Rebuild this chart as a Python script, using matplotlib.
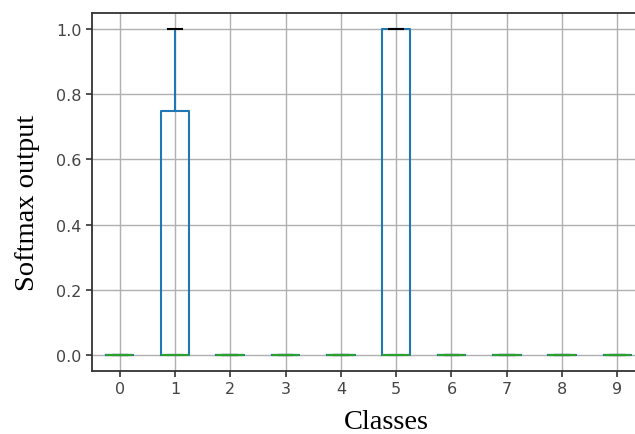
import matplotlib
matplotlib.use("Agg")
import matplotlib.pyplot as plt

classes = ["0", "1", "2", "3", "4", "5", "6", "7", "8", "9"]
q1 = [0, 0, 0, 0, 0, 0, 0, 0, 0, 0]
med = [0, 0, 0, 0, 0, 0, 0, 0, 0, 0]
q3 = [0, 0.75, 0, 0, 0, 1.0, 0, 0, 0, 0]
whislo = [0, 0, 0, 0, 0, 0, 0, 0, 0, 0]
whishi = [0, 1.0, 0, 0, 0, 1.0, 0, 0, 0, 0]
yticks = [0.0, 0.2, 0.4, 0.6, 0.8, 1.0]

stats = []
for i, c in enumerate(classes):
    stats.append(dict(label=c, q1=q1[i], med=med[i], q3=q3[i],
                      whislo=whislo[i], whishi=whishi[i], fliers=[]))

fig = plt.figure(figsize=(6.35, 4.35), dpi=100)
ax = fig.add_axes([92/635, 63/435, 553/635, 358/435])

lw = 1.5
ax.bxp(stats, showfliers=False, widths=0.5,
       boxprops=dict(color="#1f77b4", linewidth=lw),
       whiskerprops=dict(color="#1f77b4", linewidth=lw),
       medianprops=dict(color="#2ca02c", linewidth=lw),
       capprops=dict(color="black", linewidth=lw))

ax.set_xlim(0.5, 10.5)
ax.set_ylim(-0.05, 1.05)
ax.set_yticks(yticks)
ax.set_yticklabels([f"{v:.1f}" for v in yticks])
ax.grid(True, color="#b0b0b0", linewidth=1.0)
ax.set_axisbelow(True)
for s in ax.spines.values():
    s.set_color("#333333")
    s.set_linewidth(1.3)
ax.tick_params(axis="both", labelsize=11.5, labelcolor="#444444", color="#333333",
               length=4, width=1.2)

ax.set_xlabel("Classes", family="Liberation Serif", fontsize=20.5, color="black",
              va="center", ha="center")
ax.xaxis.set_label_coords(0.533, -0.142)
ax.set_ylabel("Softmax output", family="Liberation Serif", fontsize=20.5, color="black",
              va="center", ha="center")
ax.yaxis.set_label_coords(-0.116, 0.472)

fig.savefig("out.png", dpi=100)
